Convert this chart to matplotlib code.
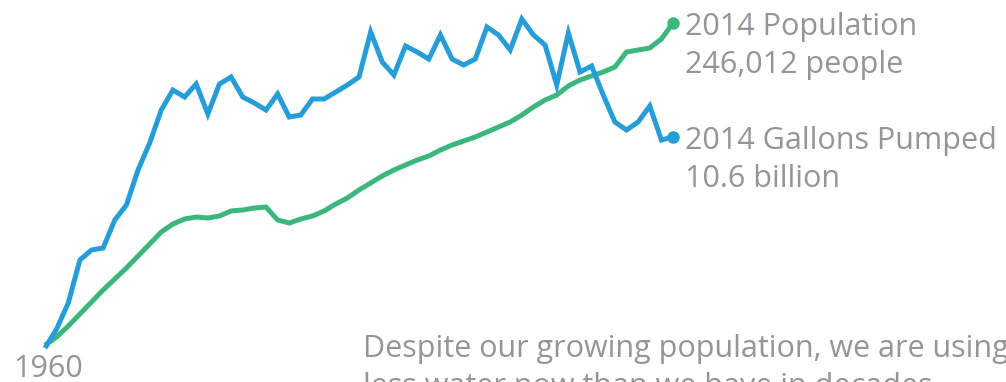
import numpy as np
import matplotlib
matplotlib.use('Agg')
import matplotlib.pyplot as plt

# 年份
years = np.arange(1960, 2015)

# 抽水量（相对指数，1960年为基准）
gallons = [2, 21, 47, 90, 100, 102, 130, 145, 180, 207,
           240, 260, 253, 266, 236, 266, 273, 253, 247, 240,
           256, 233, 235, 251, 251, 258, 265, 273, 318, 288,
           275, 304, 298, 291, 315, 291, 285, 291, 323, 315,
           300, 331, 315, 305, 265, 317, 278, 284, 255, 228,
           220, 228, 244, 210, 213]

# 人口（相对指数，1960年为基准）
population = [5, 13, 24, 36, 48, 60, 71, 82, 94, 106,
              118, 126, 131, 133, 132, 134, 139, 140, 142, 143,
              130, 127, 131, 134, 139, 146, 152, 160, 167, 174,
              180, 185, 190, 194, 200, 205, 209, 213, 218, 223,
              228, 235, 243, 250, 255, 264, 270, 274, 278, 283,
              298, 300, 302, 311, 327]

grey = '#939598'
blue = '#269dd8'
green = '#3cb77c'
font = ['Open Sans', 'DejaVu Sans']

fig = plt.figure(figsize=(10.06, 3.82), dpi=100, facecolor='white')
ax = fig.add_axes([0, 0, 1, 1])
ax.set_xlim(1960 - 45 / 11.63, 1960 + 961 / 11.63)
ax.set_ylim(-32, 350)
ax.axis('off')

ax.plot(years, population, color=green, lw=3.6, solid_joinstyle='miter', solid_capstyle='butt')
ax.plot(years, gallons, color=blue, lw=3.6, solid_joinstyle='miter', solid_capstyle='butt')
ax.plot(years[-1], population[-1], 'o', color=green, ms=8)
ax.plot(years[-1], gallons[-1], 'o', color=blue, ms=8)

# 注释文字（va='baseline' 对齐最后一行）
ax.annotate('2014 Population\n246,012 people', (years[-1], population[-1]),
            xytext=(12, -50), textcoords='offset pixels', va='baseline', ha='left',
            fontsize=22, color=grey, family=font, linespacing=1.36)
ax.annotate('2014 Gallons Pumped\n10.6 billion', (years[-1], gallons[-1]),
            xytext=(12, -50), textcoords='offset pixels', va='baseline', ha='left',
            fontsize=22, color=grey, family=font, linespacing=1.36)
fig.text(13 / 1006, 1 - 377 / 382, '1960', fontsize=22, color=grey, family=font,
         va='baseline', ha='left')
fig.text(363 / 1006, 1 - 395 / 382,
         'Despite our growing population, we are using\nless water now than we have in decades.',
         fontsize=22, color=grey, family=font, va='baseline', ha='left', linespacing=1.36)

fig.savefig('out.png', dpi=100)
